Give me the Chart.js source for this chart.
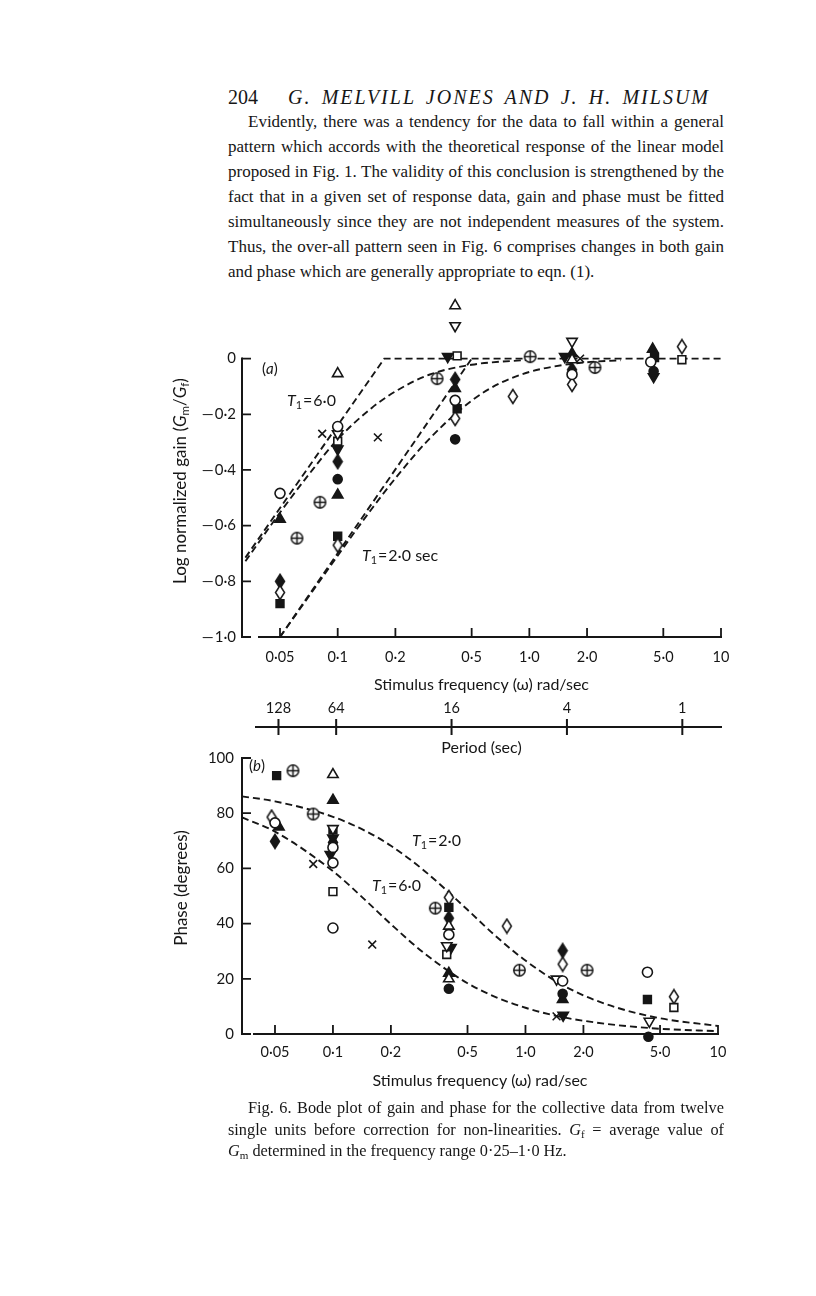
<!DOCTYPE html>
<html>
<head>
<meta charset="utf-8">
<script src="https://cdn.jsdelivr.net/npm/chart.js@4.4.0/dist/chart.umd.min.js"></script>
<style>
body { margin: 0; background: #fff; }
#page { position: relative; width: 816px; height: 1296px; overflow: hidden; background: #fff; color: #161616; }
.serif { font-family: "Liberation Serif", "DejaVu Serif", serif; }
.sans { font-family: Lato, "Open Sans", sans-serif; }
.line { position: absolute; left: 228px; width: 496px; white-space: nowrap; text-align: justify; text-align-last: justify; font-size: 17px; line-height: 20px; }
.cap { position: absolute; left: 228px; width: 496px; white-space: nowrap; text-align: justify; text-align-last: justify; font-size: 16.3px; line-height: 18px; }
.note { position: absolute; white-space: nowrap; font-size: 16px; line-height: 18px; }
.ylab { position: absolute; white-space: nowrap; font-size: 17px; transform: translate(-50%, -50%) rotate(-90deg); }
sub { font-size: 68%; vertical-align: -0.3em; }
canvas { position: absolute; left: 0; }
</style>
</head>
<body>
<div id="page">
  <div class="serif" style="position:absolute;left:228px;top:86px;font-size:20px;">204</div>
  <div class="serif" style="position:absolute;left:288px;top:86px;width:422px;font-size:20px;font-style:italic;letter-spacing:2px;white-space:nowrap;text-align:justify;text-align-last:justify;">G. MELVILL JONES AND J. H. MILSUM</div>

  <div class="serif line" style="top:112px;left:248px;width:476px;">Evidently, there was a tendency for the data to fall within a general</div>
  <div class="serif line" style="top:137px;">pattern which accords with the theoretical response of the linear model</div>
  <div class="serif line" style="top:162px;">proposed in Fig. 1. The validity of this conclusion is strengthened by the</div>
  <div class="serif line" style="top:187px;">fact that in a given set of response data, gain and phase must be fitted</div>
  <div class="serif line" style="top:212px;">simultaneously since they are not independent measures of the system.</div>
  <div class="serif line" style="top:237px;">Thus, the over-all pattern seen in Fig. 6 comprises changes in both gain</div>
  <div class="serif line" style="top:262px;text-align-last:left;">and phase which are generally appropriate to eqn. (1).</div>

  <canvas id="gainChart" width="816" height="496" style="top:274px;"></canvas>
  <canvas id="phaseChart" width="816" height="359" style="top:741px;"></canvas>

  <div class="sans ylab" style="left:180px;top:481px;">Log normalized gain (<i>G</i><sub>m</sub>/<i>G</i><sub>f</sub>)</div>
  <div class="sans ylab" style="left:180px;top:888px;">Phase (degrees)</div>

  <div class="sans note" style="left:262px;top:359px;font-size:15px;">(<i>a</i>)</div>
  <div class="sans note" style="left:287px;top:391px;"><i>T</i><sub>1</sub>&#8202;=&#8202;6·0</div>
  <div class="sans note" style="left:362px;top:546px;"><i>T</i><sub>1</sub>&#8202;=&#8202;2·0 sec</div>
  <div class="sans note" style="left:249px;top:756px;font-size:15px;">(<i>b</i>)</div>
  <div class="sans note" style="left:412px;top:831px;"><i>T</i><sub>1</sub>&#8202;=&#8202;2·0</div>
  <div class="sans note" style="left:372px;top:876px;"><i>T</i><sub>1</sub>&#8202;=&#8202;6·0</div>

  <div class="serif cap" style="top:1099px;left:248px;width:476px;">Fig. 6. Bode plot of gain and phase for the collective data from twelve</div>
  <div class="serif cap" style="top:1121px;">single units before correction for non-linearities. <i>G</i><sub>f</sub> = average value of</div>
  <div class="serif cap" style="top:1142px;text-align-last:left;"><i>G</i><sub>m</sub> determined in the frequency range 0·25–1·0 Hz.</div>
</div>

<script>
// axis ticks
var freqTicks = [0.05, 0.1, 0.2, 0.5, 1, 2, 5, 10];
var freqLabels = ['0·05', '0·1', '0·2', '0·5', '1·0', '2·0', '5·0', '10'];
var gainTicks = [0, -0.2, -0.4, -0.6, -0.8, -1.0];
var gainLabels = ['0', '\u2014\u200a0·2', '\u2014\u200a0·4', '\u2014\u200a0·6', '\u2014\u200a0·8', '\u2014\u200a1·0'];
var phaseTicks = [0, 20, 40, 60, 80, 100];
var periodTicks = [128, 64, 16, 4, 1];

// (a) gain points, [rad/sec, log normalized gain]
var gainOpenCircle = [[0.05, -0.484], [0.1, -0.244], [0.41, -0.15], [1.67, -0.057], [4.3, -0.012]];
var gainFilledCircle = [[0.1, -0.433], [0.41, -0.29], [4.45, -0.045]];
var gainOpenTri = [[0.1, -0.054], [0.41, 0.19], [1.67, -0.004]];
var gainFilledTri = [[0.05, -0.577], [0.1, -0.49], [0.41, -0.107], [1.67, 0.018], [4.4, 0.034]];
var gainOpenTriDown = [[0.1, -0.27], [0.41, 0.118], [1.67, 0.062]];
var gainFilledTriDown = [[0.1, -0.325], [0.375, 0.007], [1.53, 0.007], [4.45, -0.065]];
var gainOpenSquare = [[0.1, -0.297], [0.42, 0.01], [6.25, -0.004]];
var gainFilledSquare = [[0.05, -0.88], [0.1, -0.638], [0.42, -0.18], [4.5, 0.004]];
var gainOpenDiamond = [[0.05, -0.84], [0.1, -0.67], [0.41, -0.215], [0.82, -0.136], [1.67, -0.093], [6.25, 0.043]];
var gainFilledDiamond = [[0.05, -0.80], [0.1, -0.37], [0.41, -0.075], [1.67, -0.04]];
var gainCross = [[0.083, -0.27], [0.162, -0.283], [1.84, 0.0]];
var gainCirclePlus = [[0.0613, -0.645], [0.0808, -0.516], [0.33, -0.072], [1.01, 0.007], [2.2, -0.032]];

// (a) theoretical lines
var gainT6AsymFreq = [0.033, 0.175, 10];
var gainT6Asym = [-0.715, 0, 0];
var gainT6Freq = [0.033, 0.05, 0.07, 0.1, 0.15, 0.2, 0.3, 0.5, 1];
var gainT6Curve = [-0.728, -0.553, -0.42, -0.29, -0.178, -0.118, -0.058, -0.022, -0.004];
var gainT2AsymFreq = [0.05, 0.5];
var gainT2Asym = [-1.0, 0];
var gainT2Freq = [0.05, 0.07, 0.1, 0.15, 0.2, 0.3, 0.5, 0.7, 1, 1.5, 2, 3];
var gainT2Curve = [-1.0, -0.858, -0.708, -0.541, -0.43, -0.289, -0.151, -0.089, -0.048, -0.023, -0.013, -0.006];

// (b) phase points, [rad/sec, degrees]
var phaseOpenCircle = [[0.05, 76.5], [0.1, 67.6], [0.1, 62], [0.1, 38.4], [0.4, 36], [1.56, 19.2], [4.3, 22.4]];
var phaseFilledCircle = [[0.4, 16.4], [1.56, 14.6], [4.35, -1]];
var phaseOpenTri = [[0.1, 94], [0.4, 39.1], [0.4, 20]];
var phaseFilledTri = [[0.0524, 75], [0.1, 84.7], [0.4, 22], [1.56, 12.5]];
var phaseOpenTriDown = [[0.1, 74.4], [0.39, 32], [1.45, 19.9], [4.4, 4.6]];
var phaseFilledTriDown = [[0.1, 71], [0.097, 65], [0.41, 31.3], [1.57, 6.8]];
var phaseOpenSquare = [[0.1, 51.6], [0.39, 28.8], [5.9, 9.6]];
var phaseFilledSquare = [[0.051, 93.6], [0.1, 74], [0.4, 45.9], [4.3, 12.5]];
var phaseOpenDiamond = [[0.048, 78.6], [0.4, 49.5], [0.8, 39.1], [1.56, 25.3], [5.9, 13.5]];
var phaseFilledDiamond = [[0.05, 69.8], [0.1, 69.4], [0.4, 42], [1.56, 30.2]];
var phaseCross = [[0.079, 61.6], [0.16, 32.4], [1.45, 6.4]];
var phaseCirclePlus = [[0.062, 95.4], [0.079, 79.7], [0.34, 45.6], [0.93, 23.1], [2.09, 23.1]];

// (b) theoretical lines
var phaseFreq = [0.0337, 0.05, 0.1, 0.15, 0.2, 0.3, 0.5, 0.7, 1, 1.5, 2, 3, 5, 10];
var phaseT2Curve = [86.1, 84.3, 78.7, 73.3, 68.2, 59.0, 45.0, 35.5, 26.6, 18.4, 14.0, 9.5, 5.7, 2.9];
var phaseT6Curve = [78.5, 73.3, 59.0, 48.0, 39.8, 29.1, 18.4, 13.4, 9.5, 6.3, 4.8, 3.2, 1.9, 1.0];

var ink = '#161616';
Chart.defaults.font.family = 'Lato, "Open Sans", sans-serif';
Chart.defaults.color = ink;

// little stamps for the symbols chart.js has no shape for
function stamp(w, h, draw) {
    var c = document.createElement('canvas');
    c.width = w; c.height = h;
    var g = c.getContext('2d');
    g.strokeStyle = ink; g.lineWidth = 1.5;
    draw(g);
    return c;
}
function diamond(g, fill) {
    g.beginPath();
    g.moveTo(6, 1.5); g.lineTo(10.5, 8.5); g.lineTo(6, 15.5); g.lineTo(1.5, 8.5); g.closePath();
    g.fillStyle = fill; g.fill(); g.stroke();
}
var openDiamondImg = stamp(12, 17, function (g) { diamond(g, '#fff'); });
var filledDiamondImg = stamp(12, 17, function (g) { diamond(g, ink); });
var circlePlusImg = stamp(15, 15, function (g) {
    g.beginPath(); g.arc(7.5, 7.5, 5.7, 0, Math.PI * 2);
    g.fillStyle = '#fff'; g.fill(); g.stroke();
    g.beginPath();
    g.moveTo(1.8, 7.5); g.lineTo(13.2, 7.5);
    g.moveTo(7.5, 1.8); g.lineTo(7.5, 13.2);
    g.stroke();
});

var looks = {
    openCircle: {style: 'circle', r: 5, fill: '#fff'},
    filledCircle: {style: 'circle', r: 4.5, fill: ink},
    openTri: {style: 'triangle', r: 6, fill: '#fff'},
    filledTri: {style: 'triangle', r: 6, fill: ink},
    openTriDown: {style: 'triangle', r: 6, fill: '#fff', rot: 180},
    filledTriDown: {style: 'triangle', r: 6, fill: ink, rot: 180},
    openSquare: {style: 'rect', r: 5.5, fill: '#fff'},
    filledSquare: {style: 'rect', r: 5.5, fill: ink},
    openDiamond: {style: openDiamondImg, r: 5},
    filledDiamond: {style: filledDiamondImg, r: 5},
    cross: {style: 'crossRot', r: 5.5, fill: ink},
    circlePlus: {style: circlePlusImg, r: 5}
};

function markers(points, name) {
    var m = looks[name];
    return {
        data: points.map(function (p) { return {x: p[0], y: p[1]}; }),
        pointStyle: m.style,
        pointRadius: m.r,
        pointHoverRadius: m.r,
        pointRotation: m.rot || 0,
        pointBackgroundColor: m.fill || '#fff',
        pointBorderColor: ink,
        pointBorderWidth: 1.6,
        showLine: false,
        clip: false,
        order: 1
    };
}

function dashed(xs, ys, smooth) {
    return {
        data: xs.map(function (x, i) { return {x: x, y: ys[i]}; }),
        showLine: true,
        borderColor: ink,
        borderWidth: 1.9,
        borderDash: [7, 4],
        pointRadius: 0,
        pointHoverRadius: 0,
        fill: false,
        tension: 0,
        cubicInterpolationMode: smooth ? 'monotone' : 'default',
        clip: false,
        order: 5
    };
}

// axes drawn like the printed figure: ticks pointing inwards
var paperAxes = {
    id: 'paperAxes',
    beforeDatasetsDraw: function (chart, args, o) {
        var ctx = chart.ctx, xs = chart.scales.x, ys = chart.scales.y;
        var left = chart.chartArea.left, right = chart.chartArea.right;
        var top = ys.getPixelForValue(o.yFrom), bottom = ys.getPixelForValue(o.yTo);
        ctx.save();
        ctx.strokeStyle = ink;
        ctx.lineWidth = 2;
        ctx.beginPath();
        ctx.moveTo(left, top - 1); ctx.lineTo(left, bottom + 1);
        ctx.moveTo(left + o.gap, bottom); ctx.lineTo(right + 1, bottom);
        ctx.stroke();
        ctx.lineWidth = 1.8;
        ctx.beginPath();
        ys.ticks.forEach(function (t) {
            var py = ys.getPixelForValue(t.value);
            ctx.moveTo(left, py); ctx.lineTo(left + 9, py);
        });
        xs.ticks.forEach(function (t) {
            var px = xs.getPixelForValue(t.value);
            ctx.moveTo(px, bottom); ctx.lineTo(px, bottom - 9);
        });
        ctx.stroke();
        var ps = chart.scales.p;
        if (ps) {
            var ly = ps.top + o.periodLine;
            ctx.lineWidth = 2;
            ctx.beginPath();
            ctx.moveTo(left + 13, ly); ctx.lineTo(right + 1, ly);
            ps.ticks.forEach(function (t) {
                var px = ps.getPixelForValue(t.value);
                ctx.moveTo(px, ly - 8); ctx.lineTo(px, ly + 8);
            });
            ctx.stroke();
        }
        ctx.restore();
    }
};

function fixedTicks(values) {
    return function (scale) {
        scale.ticks = values.map(function (v) { return {value: v}; });
    };
}
var hidden = {display: false, drawTicks: false};

// gain chart (a)
var gainSets = [
    dashed(gainT6AsymFreq, gainT6Asym, false),
    dashed(gainT6Freq, gainT6Curve, true),
    dashed(gainT2AsymFreq, gainT2Asym, false),
    dashed(gainT2Freq, gainT2Curve, true),
    markers(gainOpenCircle, 'openCircle'),
    markers(gainOpenTri, 'openTri'),
    markers(gainOpenTriDown, 'openTriDown'),
    markers(gainOpenSquare, 'openSquare'),
    markers(gainOpenDiamond, 'openDiamond'),
    markers(gainCirclePlus, 'circlePlus'),
    markers(gainCross, 'cross'),
    markers(gainFilledCircle, 'filledCircle'),
    markers(gainFilledTri, 'filledTri'),
    markers(gainFilledTriDown, 'filledTriDown'),
    markers(gainFilledSquare, 'filledSquare'),
    markers(gainFilledDiamond, 'filledDiamond')
];

new Chart(document.getElementById('gainChart'), {
    type: 'scatter',
    data: {datasets: gainSets},
    plugins: [paperAxes],
    options: {
        responsive: false,
        animation: false,
        events: [],
        layout: {padding: {left: 172, right: 95, top: 12, bottom: 0}},
        plugins: {
            legend: {display: false},
            tooltip: {enabled: false},
            paperAxes: {yFrom: 0, yTo: -1, gap: 16, periodLine: 30}
        },
        scales: {
            x: {
                type: 'logarithmic', position: 'bottom', weight: 0,
                min: 0.03167, max: 10,
                grid: hidden, border: {display: false},
                ticks: {autoSkip: false, maxRotation: 0, padding: 12, font: {size: 14.5},
                    callback: function (v, i) { return freqLabels[i]; }},
                title: {display: true, text: 'Stimulus frequency (ω) rad/sec', font: {size: 16},
                    padding: {top: 0, bottom: 3}},
                afterBuildTicks: fixedTicks(freqTicks),
                afterFit: function (s) { s.height = 60; }
            },
            p: {
                type: 'logarithmic', position: 'bottom', weight: 1,
                min: 0.03167, max: 10,
                grid: hidden, border: {display: false},
                ticks: {autoSkip: false, maxRotation: 0, padding: 3, font: {size: 14.5},
                    callback: function (v, i) { return String(periodTicks[i]); }},
                title: {display: true, text: 'Period (sec)', font: {size: 16},
                    padding: {top: 0, bottom: 13}},
                afterBuildTicks: function (s) {
                    s.ticks = periodTicks.map(function (T) { return {value: 2 * Math.PI / T}; });
                },
                afterFit: function (s) { s.height = 73; }
            },
            y: {
                type: 'linear', min: -1, max: 0.25,
                grid: hidden, border: {display: false},
                ticks: {padding: 6, font: {size: 15},
                    callback: function (v, i) { return gainLabels[i]; }},
                afterBuildTicks: fixedTicks(gainTicks),
                afterFit: function (s) { s.width = 70; }
            }
        }
    }
});

// phase chart (b)
var phaseSets = [
    dashed(phaseFreq, phaseT2Curve, true),
    dashed(phaseFreq, phaseT6Curve, true),
    markers(phaseOpenCircle, 'openCircle'),
    markers(phaseOpenTri, 'openTri'),
    markers(phaseOpenTriDown, 'openTriDown'),
    markers(phaseOpenSquare, 'openSquare'),
    markers(phaseOpenDiamond, 'openDiamond'),
    markers(phaseCirclePlus, 'circlePlus'),
    markers(phaseCross, 'cross'),
    markers(phaseFilledCircle, 'filledCircle'),
    markers(phaseFilledTri, 'filledTri'),
    markers(phaseFilledTriDown, 'filledTriDown'),
    markers(phaseFilledSquare, 'filledSquare'),
    markers(phaseFilledDiamond, 'filledDiamond')
];

new Chart(document.getElementById('phaseChart'), {
    type: 'scatter',
    data: {datasets: phaseSets},
    plugins: [paperAxes],
    options: {
        responsive: false,
        animation: false,
        events: [],
        layout: {padding: {left: 172, right: 98, top: 12, bottom: 0}},
        plugins: {
            legend: {display: false},
            tooltip: {enabled: false},
            paperAxes: {yFrom: 100, yTo: 0, gap: 11}
        },
        scales: {
            x: {
                type: 'logarithmic', position: 'bottom',
                min: 0.0337, max: 10,
                grid: hidden, border: {display: false},
                ticks: {autoSkip: false, maxRotation: 0, padding: 10, font: {size: 14.5},
                    callback: function (v, i) { return freqLabels[i]; }},
                title: {display: true, text: 'Stimulus frequency (ω) rad/sec', font: {size: 16},
                    padding: {top: 0, bottom: 10}},
                afterBuildTicks: fixedTicks(freqTicks),
                afterFit: function (s) { s.height = 66; }
            },
            y: {
                type: 'linear', min: 0, max: 100,
                grid: hidden, border: {display: false},
                ticks: {padding: 8, font: {size: 15},
                    callback: function (v, i) { return String(phaseTicks[i]); }},
                afterBuildTicks: fixedTicks(phaseTicks),
                afterFit: function (s) { s.width = 70; }
            }
        }
    }
});
</script>
</body>
</html>
